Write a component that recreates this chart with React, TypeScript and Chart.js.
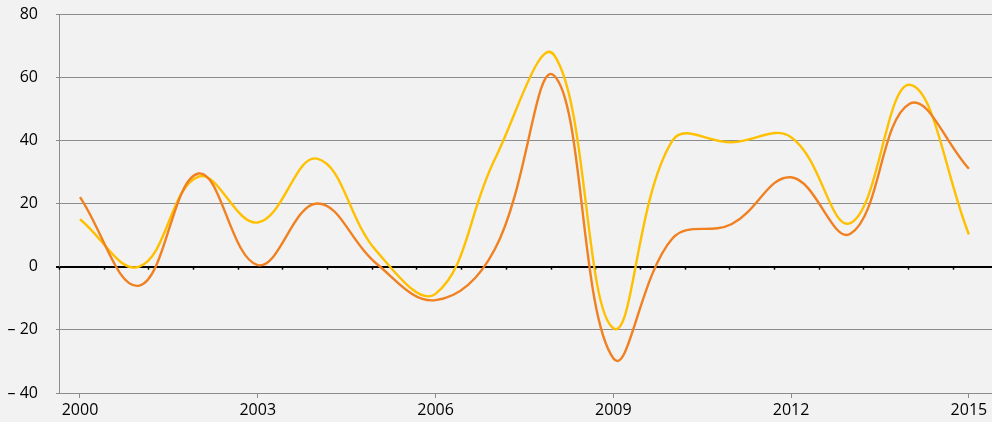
import React, { useEffect, useRef } from "react";
import { Chart, registerables } from "chart.js";

Chart.register(...registerables);

const YEARS = [2000, 2001, 2002, 2003, 2004, 2005, 2006, 2007, 2008, 2009, 2010, 2011, 2012, 2013, 2014, 2015];
const SERIES_ORANGE = [22, -6, 29.5, 0.5, 20, 1, -10.6, 5.5, 60.5, -29, 9, 13.5, 28.3, 10.4, 51.6, 31];
const SERIES_YELLOW = [15, 0, 28.5, 14, 34.2, 5, -8.6, 34, 67, -19.5, 40, 39.4, 41, 13.8, 57.6, 10.2];
const X_TICKS = [2000, 2003, 2006, 2009, 2012, 2015];
const Y_MIN = -40;
const Y_MAX = 80;
const Y_STEP = 20;
const X_MIN = 1999.646;
const X_MAX = 2015.39;
const MINOR_STEP = 0.754;

const FONT = { family: "'Open Sans', 'DejaVu Sans', sans-serif", size: 16 };

export default function App() {
  const ref = useRef<HTMLCanvasElement | null>(null);

  useEffect(() => {
    document.body.style.margin = "0";
    document.body.style.background = "#f2f2f2";
    const canvas = ref.current;
    if (!canvas) return;

    const bgPlugin = {
      id: "bg",
      beforeDraw(chart: any) {
        const c = chart.ctx;
        c.save();
        c.fillStyle = "#f2f2f2";
        c.fillRect(0, 0, chart.width, chart.height);
        c.restore();
      },
    };

    const minorTicks = {
      id: "minorTicks",
      beforeDatasetsDraw(chart: any) {
        const xs = chart.scales.x;
        const ys = chart.scales.y;
        const c = chart.ctx;
        const y0 = ys.getPixelForValue(0);
        c.save();
        c.strokeStyle = "#000";
        c.lineWidth = 1.5;
        for (let v = X_MIN; v <= X_MAX; v += MINOR_STEP) {
          const px = Math.round(xs.getPixelForValue(v)) + 0.5;
          c.beginPath();
          c.moveTo(px, y0);
          c.lineTo(px, y0 + 3);
          c.stroke();
        }
        c.restore();
      },
    };

    const chart = new Chart(canvas, {
      type: "line",
      data: {
        datasets: [
          {
            label: "orange",
            data: YEARS.map((x, i) => ({ x, y: SERIES_ORANGE[i] })),
            borderColor: "#F08020",
            borderWidth: 2.4,
            pointRadius: 0,
            tension: 0.4,
            fill: false,
          },
          {
            label: "yellow",
            data: YEARS.map((x, i) => ({ x, y: SERIES_YELLOW[i] })),
            borderColor: "#FFC000",
            borderWidth: 2.4,
            pointRadius: 0,
            tension: 0.4,
            fill: false,
          },
        ],
      },
      options: {
        animation: false,
        responsive: false,
        maintainAspectRatio: false,
        layout: { padding: { top: 14, right: 0, left: 0, bottom: 0 } },
        plugins: { legend: { display: false }, tooltip: { enabled: false } },
        scales: {
          x: {
            type: "linear",
            min: X_MIN,
            max: X_MAX,
            afterBuildTicks(scale: any) {
              scale.ticks = X_TICKS.map((v) => ({ value: v }));
            },
            afterFit(scale: any) {
              scale.height = 29;
              scale.paddingLeft = 0;
              scale.paddingRight = 0;
            },
            ticks: {
              color: "#000",
              font: FONT,
              padding: 3,
              maxRotation: 0,
              autoSkip: false,
              callback: (v: any) => String(v),
            },
            grid: {
              drawOnChartArea: false,
              drawTicks: true,
              tickLength: 5,
              color: "#8c8c8c",
              lineWidth: 1,
            },
            border: { display: false },
          },
          y: {
            min: Y_MIN,
            max: Y_MAX,
            afterFit(scale: any) {
              scale.width = 59;
              scale.paddingTop = 0;
              scale.paddingBottom = 0;
            },
            ticks: {
              stepSize: Y_STEP,
              color: "#000",
              font: FONT,
              padding: 18,
              callback: (v: any) => (v < 0 ? "\u2013 " + Math.abs(v) : String(v)),
            },
            grid: {
              color: (ctx: any) => (ctx.tick && ctx.tick.value === 0 ? "#000" : "#8c8c8c"),
              lineWidth: (ctx: any) => (ctx.tick && ctx.tick.value === 0 ? 2 : 1),
              tickLength: 3,
            },
            border: { display: true, color: "#8c8c8c", width: 1 },
          },
        },
      },
      plugins: [bgPlugin, minorTicks],
    });

    return () => chart.destroy();
  }, []);

  return (
    <div style={{ width: 992, height: 422, background: "#f2f2f2" }}>
      <canvas ref={ref} width={992} height={422} style={{ display: "block" }} />
    </div>
  );
}
